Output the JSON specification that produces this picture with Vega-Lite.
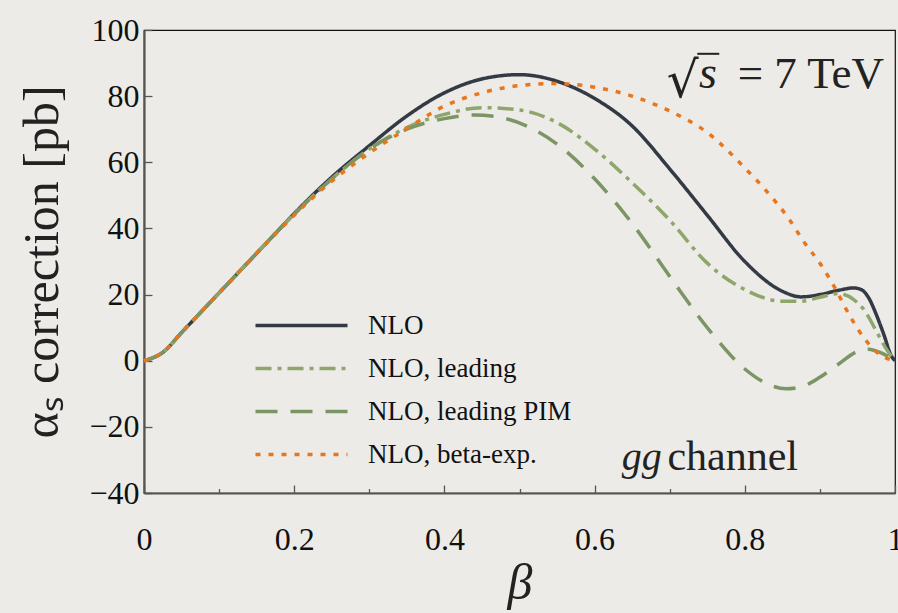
{
  "$schema": "https://vega.github.io/schema/vega-lite/v6.json",
  "width": 751,
  "height": 463,
  "autosize": "none",
  "padding": {"left": 144, "top": 30, "right": 3, "bottom": 120},
  "background": "#ecebe7",
  "config": {
    "view": {"stroke": "#111111", "strokeWidth": 1.2},
    "axis": {
      "grid": false,
      "domainColor": "#555555",
      "domainWidth": 2.2,
      "tickColor": "#555555",
      "tickWidth": 1.3,
      "labelFont": "Liberation Serif",
      "labelFontSize": 32,
      "labelColor": "#111111",
      "titleFont": "Liberation Serif",
      "titleColor": "#222222",
      "titleFontWeight": "normal"
    }
  },
  "data": {
    "values": [
      {"series": "NLO", "beta": 0, "value": 0},
      {"series": "NLO", "beta": 0.025, "value": 2.5},
      {"series": "NLO", "beta": 0.05, "value": 8.5},
      {"series": "NLO", "beta": 0.075, "value": 14.5},
      {"series": "NLO", "beta": 0.1, "value": 20.5},
      {"series": "NLO", "beta": 0.125, "value": 26.5},
      {"series": "NLO", "beta": 0.15, "value": 32.5},
      {"series": "NLO", "beta": 0.175, "value": 38.5},
      {"series": "NLO", "beta": 0.2, "value": 44.5},
      {"series": "NLO", "beta": 0.25, "value": 55.5},
      {"series": "NLO", "beta": 0.3, "value": 65},
      {"series": "NLO", "beta": 0.35, "value": 74},
      {"series": "NLO", "beta": 0.4, "value": 81},
      {"series": "NLO", "beta": 0.45, "value": 85.2},
      {"series": "NLO", "beta": 0.5, "value": 86.5},
      {"series": "NLO", "beta": 0.55, "value": 84.5},
      {"series": "NLO", "beta": 0.6, "value": 79.3},
      {"series": "NLO", "beta": 0.65, "value": 71},
      {"series": "NLO", "beta": 0.7, "value": 58},
      {"series": "NLO", "beta": 0.75, "value": 44},
      {"series": "NLO", "beta": 0.8, "value": 30},
      {"series": "NLO", "beta": 0.85, "value": 21},
      {"series": "NLO", "beta": 0.875, "value": 19.3},
      {"series": "NLO", "beta": 0.9, "value": 20},
      {"series": "NLO", "beta": 0.925, "value": 21.3},
      {"series": "NLO", "beta": 0.945, "value": 22},
      {"series": "NLO", "beta": 0.955, "value": 21.5},
      {"series": "NLO", "beta": 0.965, "value": 19},
      {"series": "NLO", "beta": 0.975, "value": 14},
      {"series": "NLO", "beta": 0.985, "value": 8},
      {"series": "NLO", "beta": 0.995, "value": 1.5},
      {"series": "NLO", "beta": 1, "value": 0},

      {"series": "NLO, leading", "beta": 0, "value": 0},
      {"series": "NLO, leading", "beta": 0.025, "value": 2.5},
      {"series": "NLO, leading", "beta": 0.05, "value": 8.5},
      {"series": "NLO, leading", "beta": 0.075, "value": 14.5},
      {"series": "NLO, leading", "beta": 0.1, "value": 20.5},
      {"series": "NLO, leading", "beta": 0.125, "value": 26.5},
      {"series": "NLO, leading", "beta": 0.15, "value": 32.5},
      {"series": "NLO, leading", "beta": 0.175, "value": 38.5},
      {"series": "NLO, leading", "beta": 0.2, "value": 44.3},
      {"series": "NLO, leading", "beta": 0.25, "value": 55},
      {"series": "NLO, leading", "beta": 0.3, "value": 64},
      {"series": "NLO, leading", "beta": 0.35, "value": 70.5},
      {"series": "NLO, leading", "beta": 0.4, "value": 74.5},
      {"series": "NLO, leading", "beta": 0.45, "value": 76.5},
      {"series": "NLO, leading", "beta": 0.5, "value": 75.8},
      {"series": "NLO, leading", "beta": 0.55, "value": 72},
      {"series": "NLO, leading", "beta": 0.6, "value": 64},
      {"series": "NLO, leading", "beta": 0.65, "value": 53.8},
      {"series": "NLO, leading", "beta": 0.7, "value": 42.5},
      {"series": "NLO, leading", "beta": 0.75, "value": 29.5},
      {"series": "NLO, leading", "beta": 0.8, "value": 21.5},
      {"series": "NLO, leading", "beta": 0.85, "value": 18},
      {"series": "NLO, leading", "beta": 0.875, "value": 18},
      {"series": "NLO, leading", "beta": 0.9, "value": 19.2},
      {"series": "NLO, leading", "beta": 0.925, "value": 20.3},
      {"series": "NLO, leading", "beta": 0.945, "value": 18.5},
      {"series": "NLO, leading", "beta": 0.96, "value": 15},
      {"series": "NLO, leading", "beta": 0.975, "value": 9},
      {"series": "NLO, leading", "beta": 0.99, "value": 3},
      {"series": "NLO, leading", "beta": 1, "value": 0},

      {"series": "NLO, leading PIM", "beta": 0, "value": 0},
      {"series": "NLO, leading PIM", "beta": 0.025, "value": 2.5},
      {"series": "NLO, leading PIM", "beta": 0.05, "value": 8.5},
      {"series": "NLO, leading PIM", "beta": 0.075, "value": 14.5},
      {"series": "NLO, leading PIM", "beta": 0.1, "value": 20.5},
      {"series": "NLO, leading PIM", "beta": 0.125, "value": 26.5},
      {"series": "NLO, leading PIM", "beta": 0.15, "value": 32.5},
      {"series": "NLO, leading PIM", "beta": 0.175, "value": 38.5},
      {"series": "NLO, leading PIM", "beta": 0.2, "value": 44.3},
      {"series": "NLO, leading PIM", "beta": 0.25, "value": 55},
      {"series": "NLO, leading PIM", "beta": 0.3, "value": 64},
      {"series": "NLO, leading PIM", "beta": 0.35, "value": 70},
      {"series": "NLO, leading PIM", "beta": 0.4, "value": 73.2},
      {"series": "NLO, leading PIM", "beta": 0.44, "value": 74.3},
      {"series": "NLO, leading PIM", "beta": 0.48, "value": 73.3},
      {"series": "NLO, leading PIM", "beta": 0.52, "value": 69.8},
      {"series": "NLO, leading PIM", "beta": 0.55, "value": 65.5},
      {"series": "NLO, leading PIM", "beta": 0.6, "value": 55},
      {"series": "NLO, leading PIM", "beta": 0.65, "value": 41.5},
      {"series": "NLO, leading PIM", "beta": 0.7, "value": 25.5},
      {"series": "NLO, leading PIM", "beta": 0.75, "value": 10},
      {"series": "NLO, leading PIM", "beta": 0.8, "value": -2.5},
      {"series": "NLO, leading PIM", "beta": 0.83, "value": -7},
      {"series": "NLO, leading PIM", "beta": 0.855, "value": -8.5},
      {"series": "NLO, leading PIM", "beta": 0.88, "value": -7.5},
      {"series": "NLO, leading PIM", "beta": 0.9, "value": -5},
      {"series": "NLO, leading PIM", "beta": 0.925, "value": -1},
      {"series": "NLO, leading PIM", "beta": 0.95, "value": 2.8},
      {"series": "NLO, leading PIM", "beta": 0.965, "value": 3.5},
      {"series": "NLO, leading PIM", "beta": 0.98, "value": 2.5},
      {"series": "NLO, leading PIM", "beta": 1, "value": 0},

      {"series": "NLO, beta-exp.", "beta": 0, "value": 0},
      {"series": "NLO, beta-exp.", "beta": 0.025, "value": 2.5},
      {"series": "NLO, beta-exp.", "beta": 0.05, "value": 8.5},
      {"series": "NLO, beta-exp.", "beta": 0.075, "value": 14.5},
      {"series": "NLO, beta-exp.", "beta": 0.1, "value": 20.5},
      {"series": "NLO, beta-exp.", "beta": 0.125, "value": 26.5},
      {"series": "NLO, beta-exp.", "beta": 0.15, "value": 32.5},
      {"series": "NLO, beta-exp.", "beta": 0.175, "value": 38.3},
      {"series": "NLO, beta-exp.", "beta": 0.2, "value": 44},
      {"series": "NLO, beta-exp.", "beta": 0.25, "value": 54.3},
      {"series": "NLO, beta-exp.", "beta": 0.3, "value": 62.8},
      {"series": "NLO, beta-exp.", "beta": 0.35, "value": 70.2},
      {"series": "NLO, beta-exp.", "beta": 0.4, "value": 77},
      {"series": "NLO, beta-exp.", "beta": 0.45, "value": 81},
      {"series": "NLO, beta-exp.", "beta": 0.5, "value": 83.2},
      {"series": "NLO, beta-exp.", "beta": 0.55, "value": 83.8},
      {"series": "NLO, beta-exp.", "beta": 0.6, "value": 82.7},
      {"series": "NLO, beta-exp.", "beta": 0.65, "value": 80},
      {"series": "NLO, beta-exp.", "beta": 0.7, "value": 75.5},
      {"series": "NLO, beta-exp.", "beta": 0.75, "value": 69},
      {"series": "NLO, beta-exp.", "beta": 0.8, "value": 58.3},
      {"series": "NLO, beta-exp.", "beta": 0.83, "value": 51},
      {"series": "NLO, beta-exp.", "beta": 0.86, "value": 42.5},
      {"series": "NLO, beta-exp.", "beta": 0.88, "value": 35.5},
      {"series": "NLO, beta-exp.", "beta": 0.9, "value": 29.5},
      {"series": "NLO, beta-exp.", "beta": 0.92, "value": 22},
      {"series": "NLO, beta-exp.", "beta": 0.94, "value": 13.5},
      {"series": "NLO, beta-exp.", "beta": 0.96, "value": 6.5},
      {"series": "NLO, beta-exp.", "beta": 0.98, "value": 1.8},
      {"series": "NLO, beta-exp.", "beta": 1, "value": 0}
    ]
  },
  "layer": [
    {
      "mark": {"type": "line", "strokeWidth": 3.5, "interpolate": "monotone", "strokeCap": "butt"},
      "encoding": {
        "x": {
          "field": "beta", "type": "quantitative",
          "scale": {"domain": [0, 1], "nice": false, "zero": false},
          "axis": {
            "values": [0, 0.05, 0.1, 0.15, 0.2, 0.25, 0.3, 0.35, 0.4, 0.45, 0.5, 0.55, 0.6, 0.65, 0.7, 0.75, 0.8, 0.85, 0.9, 0.95, 1],
            "labelExpr": "abs(datum.value*5-round(datum.value*5))<0.000001 ? format(datum.value, '.1~f') : ''",
            "labelOverlap": false,
            "labelFlush": false,
            "labelPadding": 39,
            "tickSize": {"condition": {"test": "abs(datum.value*5-round(datum.value*5))<0.000001", "value": -8}, "value": -4.5},
            "title": "β",
            "titleFontStyle": "italic",
            "titleFontSize": 50,
            "titlePadding": 0
          }
        },
        "y": {
          "field": "value", "type": "quantitative",
          "scale": {"domain": [-40, 100], "nice": false, "zero": false},
          "axis": {
            "values": [-40, -35, -30, -25, -20, -15, -10, -5, 0, 5, 10, 15, 20, 25, 30, 35, 40, 45, 50, 55, 60, 65, 70, 75, 80, 85, 90, 95, 100],
            "labelExpr": "abs(datum.value/20-round(datum.value/20))<0.000001 ? format(datum.value, 'd') : ''",
            "labelOverlap": false,
            "labelFlush": false,
            "labelPadding": 13,
            "tickSize": {"condition": {"test": "abs(datum.value/20-round(datum.value/20))<0.000001", "value": -8}, "value": -4.5},
            "title": "αₛ  correction  [pb]",
            "titleFontSize": 50,
            "titlePadding": 21
          }
        },
        "color": {
          "field": "series", "type": "nominal",
          "scale": {
            "domain": ["NLO", "NLO, leading", "NLO, leading PIM", "NLO, beta-exp."],
            "range": ["#333a44", "#8fa66b", "#7b9564", "#e8761c"]
          },
          "legend": {
            "orient": "none", "legendX": 144, "legendY": 282,
            "title": null, "symbolType": "M-4,0H4", "symbolSize": 529, "symbolStrokeWidth": 3.5,
            "labelFont": "Liberation Serif", "labelFontSize": 27, "labelColor": "#111111", "labelLimit": 400,
            "labelOffset": 53, "rowPadding": 15
          }
        },
        "strokeDash": {
          "field": "series", "type": "nominal",
          "scale": {
            "domain": ["NLO", "NLO, leading", "NLO, leading PIM", "NLO, beta-exp."],
            "range": [[1, 0], [16, 6, 4, 6], [22, 13], [5, 8]]
          },
          "legend": {
            "orient": "none", "legendX": 144, "legendY": 282,
            "title": null, "symbolType": "M-4,0H4", "symbolSize": 529, "symbolStrokeWidth": 3.5,
            "labelFont": "Liberation Serif", "labelFontSize": 27, "labelColor": "#111111", "labelLimit": 400,
            "labelOffset": 53, "rowPadding": 15
          }
        }
      }
    },
    {
      "data": {"values": [{"t": "= 7 TeV"}]},
      "mark": {"type": "text", "align": "right", "baseline": "alphabetic", "font": "Liberation Serif", "fontSize": 45, "color": "#222222"},
      "encoding": {"x": {"datum": 0.9854}, "y": {"datum": 82.5}, "text": {"field": "t"}}
    },
    {
      "data": {"values": [{"t": "s"}]},
      "mark": {"type": "text", "align": "left", "baseline": "alphabetic", "font": "Liberation Serif", "fontStyle": "italic", "fontSize": 46, "color": "#222222"},
      "encoding": {"x": {"datum": 0.739}, "y": {"datum": 82.5}, "text": {"field": "t"}}
    },
    {
      "data": {"values": [{"t": "√"}]},
      "mark": {"type": "text", "align": "right", "baseline": "alphabetic", "font": "DejaVu Serif", "fontSize": 50, "color": "#222222"},
      "encoding": {"x": {"datum": 0.7385}, "y": {"datum": 79.8}, "text": {"field": "t"}}
    },
    {
      "data": {"values": [{"t": "bar"}]},
      "mark": {"type": "rule", "color": "#222222", "strokeWidth": 2},
      "encoding": {"x": {"datum": 0.7367}, "x2": {"datum": 0.766}, "y": {"datum": 92.8}}
    },
    {
      "data": {"values": [{"t": "gg"}]},
      "mark": {"type": "text", "align": "left", "baseline": "alphabetic", "font": "Liberation Serif", "fontStyle": "italic", "fontSize": 40, "color": "#222222"},
      "encoding": {"x": {"datum": 0.636}, "y": {"datum": -33}, "text": {"field": "t"}}
    },
    {
      "data": {"values": [{"t": "channel"}]},
      "mark": {"type": "text", "align": "left", "baseline": "alphabetic", "font": "Liberation Serif", "fontSize": 42, "color": "#222222"},
      "encoding": {"x": {"datum": 0.697}, "y": {"datum": -33}, "text": {"field": "t"}}
    }
  ]
}
